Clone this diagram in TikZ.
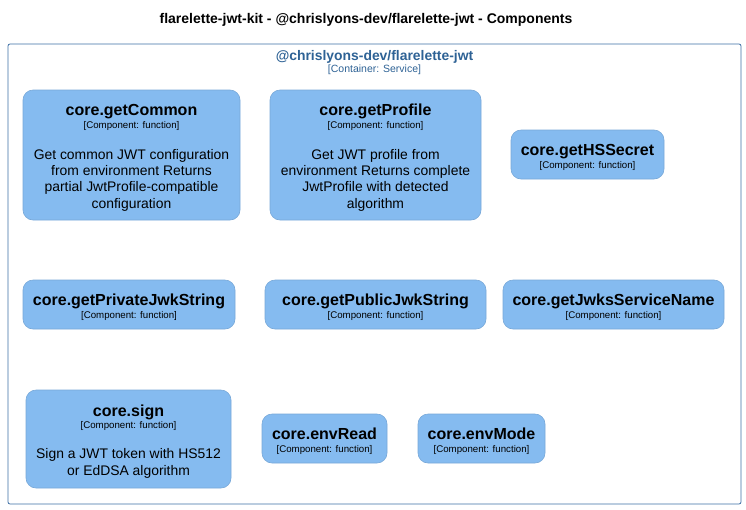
\documentclass[tikz,border=0pt]{standalone}
\usepackage{fontspec}
\setmainfont{Liberation Sans}
\definecolor{compfill}{HTML}{85BBF0}
\definecolor{compline}{HTML}{78A8D8}
\definecolor{boundline}{HTML}{3C6EA5}
\definecolor{boundtext}{HTML}{2E6295}

\begin{document}
\begin{tikzpicture}[x=1pt, y=-1pt,
  comp/.style={draw=compline, fill=compfill, rounded corners=10pt, line width=0.6pt},
  cname/.style={font=\fontsize{16}{18}\selectfont\bfseries, anchor=base},
  ctag/.style={font=\fontsize{9.7}{11}\selectfont, anchor=base},
  cdesc/.style={font=\fontsize{13.9}{16.3}\selectfont, align=center}]
\useasboundingbox (0,0) rectangle (746,509);
\node[font=\fontsize{14}{16}\selectfont\bfseries] (title) at (366,19.5) {flarelette-jwt-kit - @chrislyons-dev/flarelette-jwt - Components};
% container
\node[draw=boundline, line width=0.8pt, rounded corners=2pt, minimum width=733pt, minimum height=460pt, inner sep=0pt] (service) at (374.5,274) {};
\node[font=\fontsize{13.9}{16}\selectfont\bfseries, text=boundtext, anchor=base] (service-name) at (374.5,60.5) {@chrislyons-dev/flarelette-jwt};
\node[font=\fontsize{10.5}{12}\selectfont, text=boundtext, anchor=base] (service-tag) at (374.5,72) {[Container: Service]};

\node[comp, minimum width=217pt, minimum height=130pt] (common) at (131.5,155) {}; % core.getCommon
\node[cname] (common-name) at (131.5,115.5) {core.getCommon};
\node[ctag] (common-tag) at (131.5,128) {[Component: function]};
\node[cdesc] (common-desc) at (131.5,180) {Get common JWT configuration\\from environment Returns\\partial JwtProfile-compatible\\configuration};

\node[comp, minimum width=211pt, minimum height=130pt] (profile) at (375.5,155) {}; % core.getProfile
\node[cname] (profile-name) at (375.5,115.5) {core.getProfile};
\node[ctag] (profile-tag) at (375.5,128) {[Component: function]};
\node[cdesc] (profile-desc) at (375.5,180) {Get JWT profile from\\environment Returns complete\\JwtProfile with detected\\algorithm};

\node[comp, minimum width=153pt, minimum height=49pt] (hssecret) at (587.5,154.5) {}; % core.getHSSecret
\node[cname] (hssecret-name) at (587.5,155.5) {core.getHSSecret};
\node[ctag] (hssecret-tag) at (587.5,168) {[Component: function]};

\node[comp, minimum width=212pt, minimum height=49pt] (privjwk) at (129,304.5) {}; % core.getPrivateJwkString
\node[cname] (privjwk-name) at (129,305.5) {core.getPrivateJwkString};
\node[ctag] (privjwk-tag) at (129,318) {[Component: function]};

\node[comp, minimum width=221pt, minimum height=49pt] (pubjwk) at (375.5,304.5) {}; % core.getPublicJwkString
\node[cname] (pubjwk-name) at (375.5,305.5) {core.getPublicJwkString};
\node[ctag] (pubjwk-tag) at (375.5,318) {[Component: function]};

\node[comp, minimum width=221pt, minimum height=49pt] (jwksname) at (613.5,304.5) {}; % core.getJwksServiceName
\node[cname] (jwksname-name) at (613.5,305.5) {core.getJwksServiceName};
\node[ctag] (jwksname-tag) at (613.5,318) {[Component: function]};

\node[comp, minimum width=205pt, minimum height=98pt] (sign) at (128.5,439) {}; % core.sign
\node[cname] (sign-name) at (128.5,416.5) {core.sign};
\node[ctag] (sign-tag) at (128.5,428) {[Component: function]};
\node[cdesc] (sign-desc) at (128.5,463.5) {Sign a JWT token with HS512\\or EdDSA algorithm};

\node[comp, minimum width=125pt, minimum height=49pt] (envread) at (324.5,438.5) {}; % core.envRead
\node[cname] (envread-name) at (324.5,439.5) {core.envRead};
\node[ctag] (envread-tag) at (324.5,452) {[Component: function]};

\node[comp, minimum width=127pt, minimum height=49pt] (envmode) at (481.5,438.5) {}; % core.envMode
\node[cname] (envmode-name) at (481.5,439.5) {core.envMode};
\node[ctag] (envmode-tag) at (481.5,452) {[Component: function]};
\end{tikzpicture}
\end{document}
